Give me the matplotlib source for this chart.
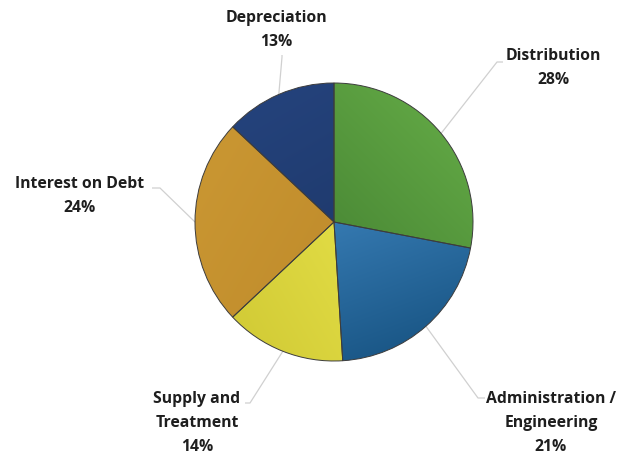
import numpy as np
import matplotlib
matplotlib.use("Agg")
import matplotlib.pyplot as plt
from matplotlib.colors import to_rgb

# Budget shares, clockwise from 12 o'clock
categories = ["Distribution", "Administration /\nEngineering", "Supply and\nTreatment",
              "Interest on Debt", "Depreciation"]
shares = [28, 21, 14, 24, 13]

# gradient colours per slice: (dark end, light end, direction of light end in degrees)
grad = [
    ("#3a742b", "#5fa443", 45),
    ("#1b5888", "#4f9ad9", 110),
    ("#d2cb36", "#f0ec52", 30),
    ("#bb8628", "#c99632", 150),
    ("#1b3463", "#24427b", 120),
]

# label placement (pixel coords from top-left) and leader-line elbow
label_pos = [(553, 48), (551, 391), (197, 391), (80, 176), (276, 10)]
elbows = [((503, 62), (497, 62)), ((485, 398), (478, 398)), ((245, 403), (250, 403)),
          ((152, 188), (160, 188)), ((282, 55), (282, 57))]

W, H = 621, 455
fig = plt.figure(figsize=(W / 100, H / 100), dpi=100)
ax = fig.add_axes([0, 0, 1, 1])

cx, cy, R = 334, H - 222, 139

wedges, _ = ax.pie(shares, startangle=90, counterclock=False, center=(cx, cy),
                   radius=R, frame=True,
                   wedgeprops=dict(edgecolor="#3c3c3c", linewidth=0.7, facecolor="none"))

# gradient fill clipped to each wedge
n = 400
xs = np.linspace(cx - R, cx + R, n)
ys = np.linspace(cy - R, cy + R, n)
X, Y = np.meshgrid(xs, ys)
for w, (c0, c1, ang) in zip(wedges, grad):
    d = np.deg2rad(ang)
    t = ((X - cx) * np.cos(d) + (Y - cy) * np.sin(d)) / R
    t = np.clip((t + 1) / 2, 0, 1)[..., None]
    img = np.array(to_rgb(c0)) * (1 - t) + np.array(to_rgb(c1)) * t
    im = ax.imshow(img, extent=(cx - R, cx + R, cy - R, cy + R), origin="lower",
                   zorder=1, interpolation="bilinear")
    im.set_clip_path(w)
    w.set_zorder(2)
ax.set_aspect("auto")
ax.set_xlim(0, W)
ax.set_ylim(0, H)
ax.axis("off")

# leader lines from the slice's mid-angle on the rim to the label
theta = 90.0
for w, s, (p_far, p_near) in zip(wedges, shares, elbows):
    mid = np.deg2rad(theta - s * 3.6 / 2)
    theta -= s * 3.6
    ex, ey = cx + R * np.cos(mid), cy + R * np.sin(mid)
    ax.plot([p_far[0], p_near[0], ex], [H - p_far[1], H - p_near[1], ey],
            color="#d0d0d0", lw=0.9, zorder=0.5, solid_capstyle="butt")

for cat, s, (lx, ly) in zip(categories, shares, label_pos):
    ax.text(lx, H - ly, f"{cat}\n{s}%", ha="center", va="top", fontsize=11.3,
            fontweight="bold", family="Open Sans", color="#1e1e1e", linespacing=1.68)

fig.savefig("out.png", dpi=100, facecolor="white")
